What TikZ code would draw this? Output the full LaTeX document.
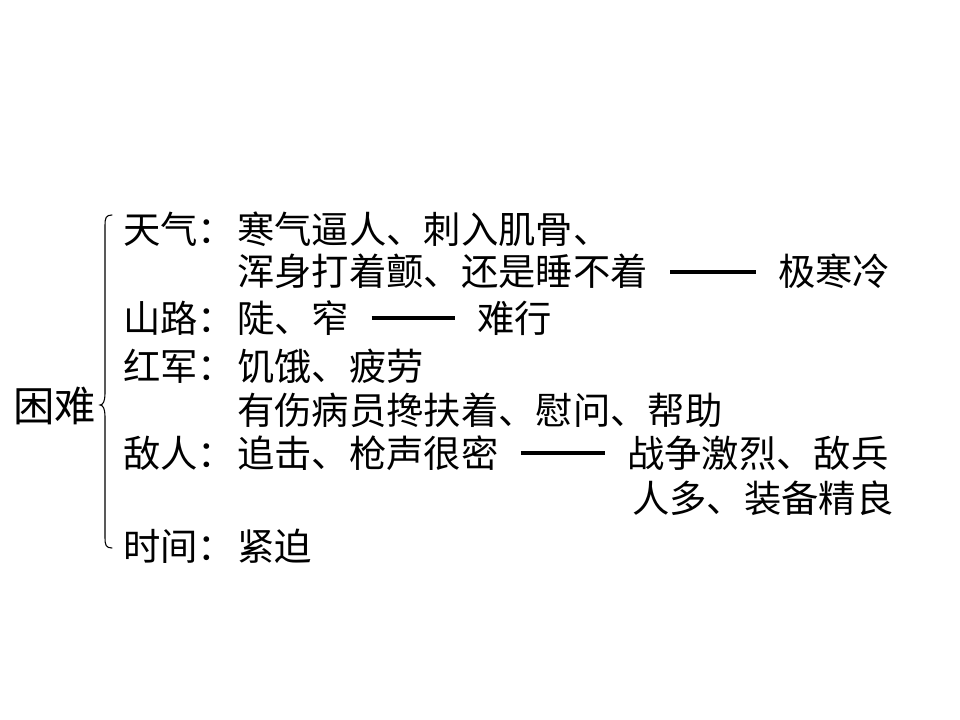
\documentclass[tikz,border=0pt]{standalone}
\usepackage{fontspec}
\setmainfont{Noto Sans CJK SC}
\usetikzlibrary{positioning}

\begin{document}
\begin{tikzpicture}[x=0.75pt,y=-0.75pt,every node/.style={inner sep=0pt,anchor=base west,font=\fontsize{28}{28}\selectfont}]
\tikzstyle{dashline}=[line width=3pt,shorten <=16.5pt,shorten >=16.5pt]
\tikzstyle{brace}=[line width=0.8pt,line cap=round]
\useasboundingbox (0,0) rectangle (960,720);
% topic and brace
\node[font=\fontsize{31}{31}\selectfont] (topic) at (13,421) {困难};
\coordinate (btop) at (112,215);
\coordinate (btip) at (100,405);
\coordinate (bbot) at (112,548);
\draw[brace] (btop) .. controls (106,215) and (105,218) .. (105,225) -- (105,394)
  .. controls (105,401) and (103,405) .. (btip)
  .. controls (103,405) and (105,409) .. (105,416) -- (105,538)
  .. controls (105,545) and (106,548) .. (bbot);
% labels
\node (l1) at (123,244) {天气：};
\node (l3) at (123,332) {山路：};
\node (l4) at (123,380) {红军：};
\node (l6) at (123,467) {敌人：};
\node (l8) at (123,560) {时间：};
% contents
\node (c1) at (237,244) {寒气逼人、刺入肌骨、};
\node (c2) at (237,286) {浑身打着颤、还是睡不着};
\node (c3) at (237,332) {陡、窄};
\node (c4) at (237,380) {饥饿、疲劳};
\node (c5) at (237,424) {有伤病员搀扶着、慰问、帮助};
\node (c6) at (237,467) {追击、枪声很密};
\node (c8) at (237,560) {紧迫};
% results
\node (r2) at (778,286) {极寒冷};
\node (r3) at (477,332) {难行};
\node (r6) at (627,467) {战争激烈、敌兵};
\node (r7) at (632,512) {人多、装备精良};
\foreach \a/\b in {c2/r2,c3/r3,c6/r6}{\draw[dashline] ([yshift=10.5pt]\a.base east) -- ([yshift=10.5pt]\b.base west);}
\end{tikzpicture}
\end{document}
